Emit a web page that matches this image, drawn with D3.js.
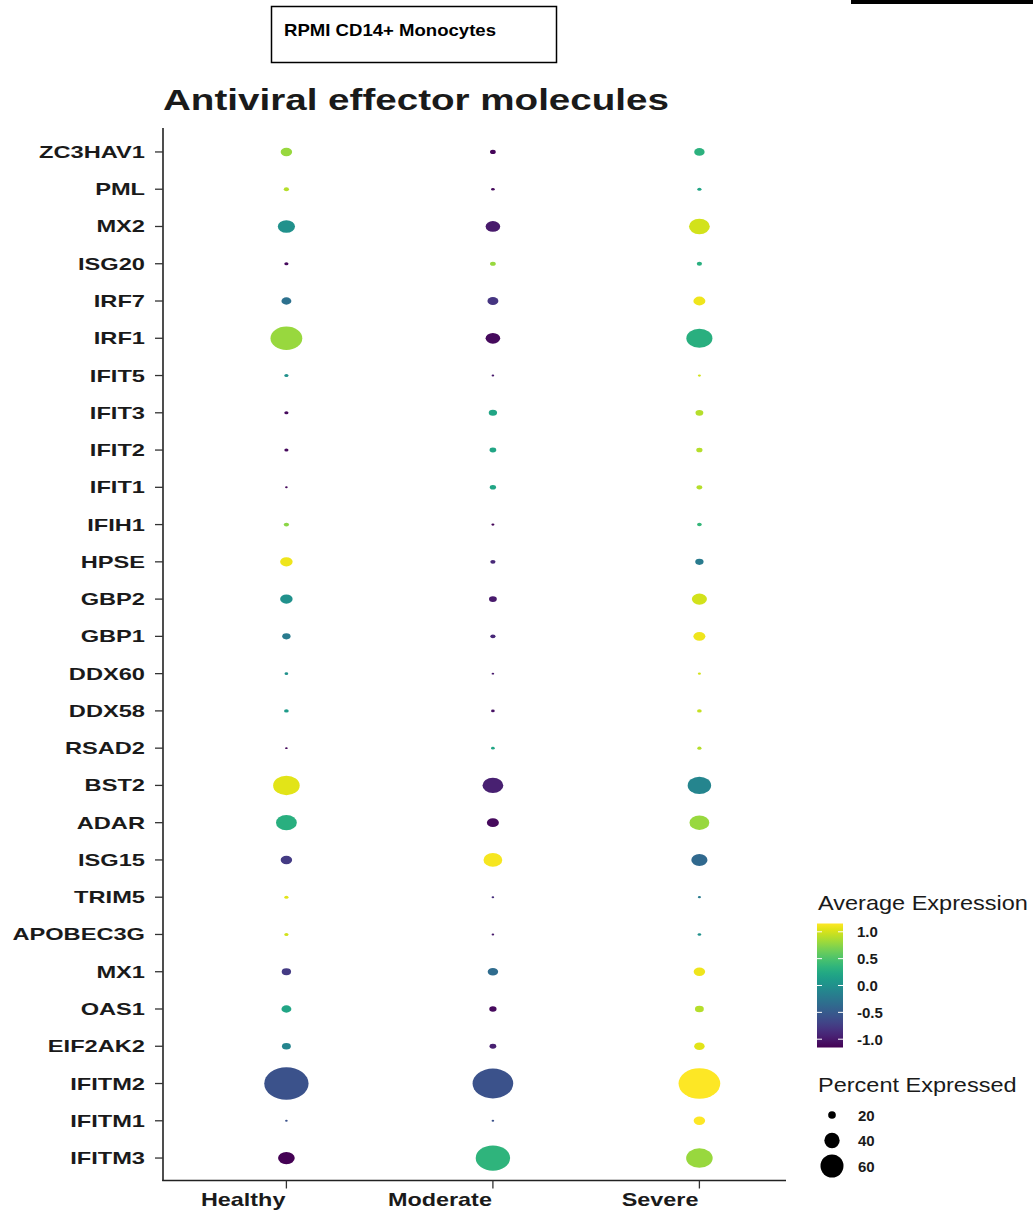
<!DOCTYPE html>
<html>
<head>
<meta charset="utf-8">
<script src="https://cdn.jsdelivr.net/npm/d3@7"></script>
<style>
  html, body { margin: 0; padding: 0; background: #fff; }
  svg { display: block; font-family: "Liberation Sans", Arial, sans-serif; }
</style>
</head>
<body>
<svg id="chart" width="1033" height="1213"></svg>
<script>
// Genes, top row first
const genes = ["ZC3HAV1","PML","MX2","ISG20","IRF7","IRF1","IFIT5","IFIT3","IFIT2","IFIT1",
  "IFIH1","HPSE","GBP2","GBP1","DDX60","DDX58","RSAD2","BST2","ADAR","ISG15","TRIM5",
  "APOBEC3G","MX1","OAS1","EIF2AK2","IFITM2","IFITM1","IFITM3"];
const groups = ["Healthy","Moderate","Severe"];

// Scaled average expression per group (same gene order)
const avgHealthy  = [0.80, 0.90, 0.00,-1.10,-0.30, 0.80, 0.00,-1.10,-1.10,-1.10,
  0.75, 1.10, 0.00,-0.20, 0.00, 0.10,-1.10, 1.05, 0.30,-0.75, 1.05,
  1.00,-0.75, 0.20,-0.10,-0.577,-0.577,-1.15];
const avgModerate = [-1.12,-1.10,-1.00, 0.80,-0.80,-1.10,-1.00, 0.20, 0.20, 0.20,
 -1.12,-0.90,-1.00,-0.90,-1.00,-1.05, 0.20,-0.95,-1.10, 1.12,-0.85,
 -1.00,-0.35,-1.10,-0.95,-0.577,-0.577, 0.35];
const avgSevere   = [0.32, 0.20, 1.00, 0.30, 1.10, 0.30, 1.00, 0.90, 0.90, 0.90,
  0.37,-0.20, 1.00, 1.10, 1.00, 0.95, 0.90,-0.10, 0.80,-0.37,-0.20,
  0.00, 1.10, 0.90, 1.05, 1.155, 1.155, 0.80];

// Percent of cells expressing each gene
const pctHealthy  = [22, 10, 33, 8, 19, 61, 8, 8, 8, 5,
  10, 24, 24, 16, 7, 9, 5, 51, 40, 22, 8,
  8, 18, 19, 17, 85, 5, 32];
const pctModerate = [11, 7, 28, 11, 21, 28, 5, 16, 13, 12,
  6, 10, 15, 10, 5, 7, 7, 40, 23, 36, 5,
  5, 20, 14, 13, 78, 5, 66];
const pctSevere   = [20, 8, 40, 10, 23, 50, 6, 15, 12, 11,
  9, 16, 29, 23, 6, 9, 8, 45, 38, 31, 6,
  7, 22, 17, 20, 80, 22, 51];

const colorTicks = [1.0, 0.5, 0.0, -0.5, -1.0];
const sizeTicks = [20, 40, 60];

const avgByGroup = { Healthy: avgHealthy, Moderate: avgModerate, Severe: avgSevere };
const pctByGroup = { Healthy: pctHealthy, Moderate: pctModerate, Severe: pctSevere };

const svg = d3.select("#chart");

// Panel geometry
const panelLeft = 163, panelBottom = 1180.5, panelTop = 128, xAxisEnd = 786;
const stretch = 1.36; // horizontal aspect of the panel marks

const x = d3.scalePoint().domain(groups).range([162.5, 162.5 + 206.5 * 3.2]).padding(0.6);
const y = d3.scalePoint().domain(genes).range([129.6, 1180.4]).padding(0.6);
const zMax = 1.1547;
const color = d3.scaleSequential(d3.interpolateViridis).domain([-zMax, zMax]);
const radius = d3.scaleLinear().domain([0, 60]).range([0, 11.5]);

// Header box and bar
svg.append("rect").attr("x", 851).attr("y", 0).attr("width", 182).attr("height", 4).attr("fill", "#000");
svg.append("rect").attr("x", 271.5).attr("y", 6.5).attr("width", 285).attr("height", 56)
  .attr("fill", "none").attr("stroke", "#000").attr("stroke-width", 1.5);
svg.append("text").attr("x", 284).attr("y", 36)
  .attr("font-size", 17).attr("font-weight", "bold").attr("fill", "#000")
  .attr("textLength", 212).attr("lengthAdjust", "spacingAndGlyphs")
  .text("RPMI CD14+ Monocytes");

// Title
svg.append("text").attr("x", 163).attr("y", 110)
  .attr("font-size", 30).attr("font-weight", "bold").attr("fill", "#1a1a1a")
  .attr("textLength", 506).attr("lengthAdjust", "spacingAndGlyphs")
  .text("Antiviral effector molecules");

// Dots
const points = [];
groups.forEach(g => genes.forEach((gene, i) => {
  points.push({ group: g, gene, avg: avgByGroup[g][i], pct: pctByGroup[g][i] });
}));
svg.append("g").selectAll("ellipse").data(points).join("ellipse")
  .attr("cx", d => x(d.group))
  .attr("cy", d => y(d.gene))
  .attr("rx", d => radius(d.pct) * stretch)
  .attr("ry", d => radius(d.pct))
  .attr("fill", d => color(d.avg));

// Y axis
const yAxisG = svg.append("g");
yAxisG.append("line").attr("x1", panelLeft).attr("x2", panelLeft)
  .attr("y1", panelTop).attr("y2", panelBottom + 0.5)
  .attr("stroke", "#222").attr("stroke-width", 1.6);
const yTick = yAxisG.selectAll("g.tick").data(genes).join("g")
  .attr("class", "tick").attr("transform", d => `translate(0,${y(d)})`);
yTick.append("line").attr("x1", panelLeft - 8).attr("x2", panelLeft)
  .attr("stroke", "#333").attr("stroke-width", 1.3);
yTick.append("text")
  .attr("transform", `translate(145,6) scale(1.39,1)`)
  .attr("text-anchor", "end").attr("font-size", 17).attr("font-weight", "bold").attr("fill", "#1a1a1a")
  .text(d => d);

// X axis
const xAxisG = svg.append("g");
xAxisG.append("line").attr("x1", panelLeft - 0.8).attr("x2", xAxisEnd)
  .attr("y1", panelBottom).attr("y2", panelBottom)
  .attr("stroke", "#222").attr("stroke-width", 1.6);
const xTick = xAxisG.selectAll("g.tick").data(groups).join("g")
  .attr("class", "tick").attr("transform", d => `translate(${x(d)},${panelBottom})`);
xTick.append("line").attr("y1", 0).attr("y2", 8).attr("stroke", "#333").attr("stroke-width", 1.3);
xTick.append("text")
  .attr("transform", "translate(-1,25) scale(1.3,1)")
  .attr("text-anchor", "end").attr("font-size", 18).attr("font-weight", "bold").attr("fill", "#1a1a1a")
  .text(d => d);

// Colour legend
const legend = svg.append("g");
legend.append("text").attr("transform", "translate(818,910) scale(1.12,1)")
  .attr("font-size", 21).attr("fill", "#1a1a1a").text("Average Expression");

const barX = 817, barW = 26;
const barY = d3.scaleLinear().domain([-zMax, zMax]).range([1047.5, 923.5]);
const defs = svg.append("defs");
const grad = defs.append("linearGradient").attr("id", "viridisBar")
  .attr("x1", 0).attr("y1", 1).attr("x2", 0).attr("y2", 0);
d3.range(0, 1.0001, 0.05).forEach(t => {
  grad.append("stop").attr("offset", t).attr("stop-color", d3.interpolateViridis(t));
});
legend.append("rect").attr("x", barX).attr("y", barY(zMax)).attr("width", barW)
  .attr("height", barY(-zMax) - barY(zMax)).attr("fill", "url(#viridisBar)");
const cTick = legend.selectAll("g.ctick").data(colorTicks).join("g")
  .attr("class", "ctick").attr("transform", d => `translate(0,${barY(d)})`);
cTick.append("line").attr("x1", barX).attr("x2", barX + 5).attr("stroke", "#fff").attr("stroke-width", 1);
cTick.append("line").attr("x1", barX + barW - 5).attr("x2", barX + barW).attr("stroke", "#fff").attr("stroke-width", 1);
cTick.append("text").attr("x", 857).attr("y", 5.5)
  .attr("font-size", 15).attr("font-weight", "bold").attr("fill", "#1a1a1a")
  .text(d => d3.format(".1f")(d).replace("−", "-"));

// Size legend
legend.append("text").attr("transform", "translate(818,1092) scale(1.12,1)")
  .attr("font-size", 21).attr("fill", "#1a1a1a").text("Percent Expressed");
const sizeRowY = d3.scalePoint().domain(sizeTicks).range([1115, 1166]);
const sRow = legend.selectAll("g.srow").data(sizeTicks).join("g")
  .attr("class", "srow").attr("transform", d => `translate(0,${sizeRowY(d)})`);
sRow.append("circle").attr("cx", 832).attr("cy", 0).attr("r", d => radius(d)).attr("fill", "#000");
sRow.append("text").attr("x", 858).attr("y", 5.5)
  .attr("font-size", 15).attr("font-weight", "bold").attr("fill", "#1a1a1a")
  .text(d => d);
</script>
</body>
</html>
